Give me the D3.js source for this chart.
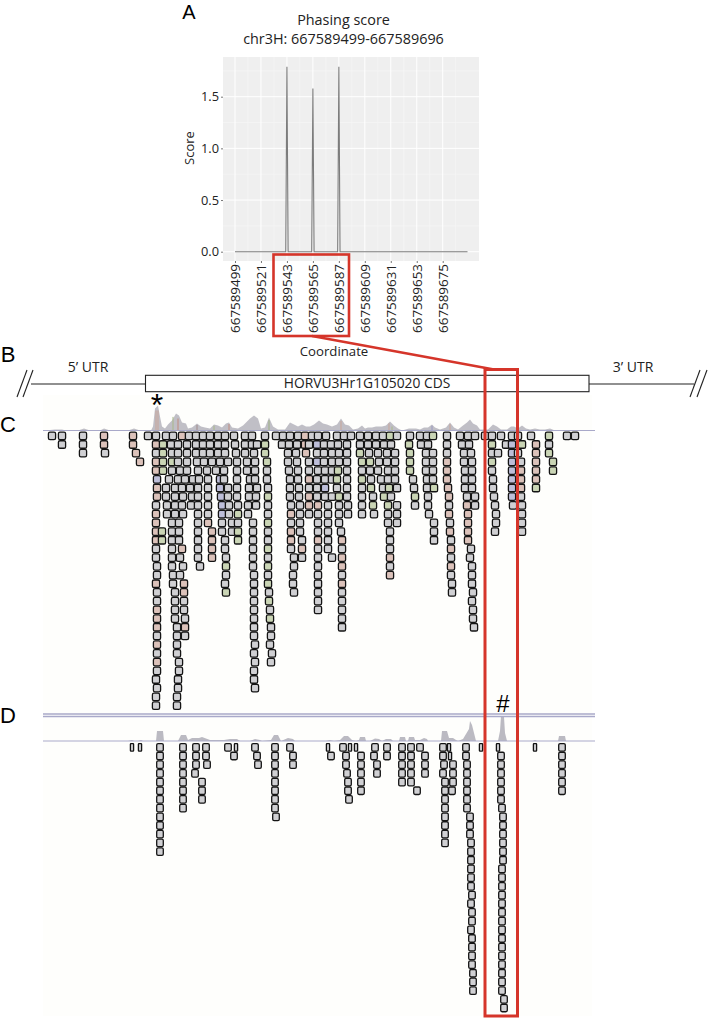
<!DOCTYPE html>
<html><head><meta charset="utf-8">
<script src="https://cdnjs.cloudflare.com/ajax/libs/d3/7.8.5/d3.min.js"></script>
<style>html,body{margin:0;padding:0;background:#fff}svg{display:block}text{font-family:"Open Sans",sans-serif;fill:#222}</style>
</head><body><div id="c"></div>
<script>
// Panel A: phasing score
const scoreCoords=[667589499,667589542,667589543,667589544,667589564,667589565,667589566,667589586,667589587,667589588,667589696];
const scoreValues=[0,0,1.79,0,0,1.58,0,0,1.79,0,0];
const coordTicks=[667589499,667589521,667589543,667589565,667589587,667589609,667589631,667589653,667589675];
const scoreTicks=[0,0.5,1,1.5];
// Panel C: reads, one list of start positions per pileup row
const cReads=[
[52,62,83,104,133,148,156,166,173,182,189,196,203,210,218,225,234,245,252,265,276,283,290,298,305,312,318,326,337,344,351,360,368,376,383,390,397,410,420,427,433,447,460,468,475,485,492,501,512,518,531,549,567,575],
[62,83,104,133,156,163,171,178,187,196,203,210,218,225,235,245,252,257,265,282,289,297,305,309,317,324,331,338,347,360,368,376,384,391,409,421,428,447,462,469,492,506,512,522,536,549],
[83,105,136,156,163,172,178,187,196,203,210,218,225,236,245,254,265,288,296,306,317,324,332,339,347,360,369,378,387,395,410,426,433,447,464,471,492,498,512,518,536,549],
[140,156,163,172,178,187,197,204,212,220,228,237,247,255,267,288,297,309,317,324,332,339,347,362,370,379,387,395,410,426,433,447,464,472,492,512,521,536,553],
[156,163,172,180,187,198,207,216,224,237,247,255,267,289,298,309,318,325,332,338,347,362,370,378,388,395,410,426,433,447,465,472,492,512,521,536,553],
[157,169,178,185,193,199,208,220,224,237,250,255,267,290,298,309,317,325,332,337,347,362,371,381,388,395,413,427,433,447,465,472,493,512,521,536],
[157,166,175,182,190,198,208,220,228,237,249,257,268,290,299,309,317,325,337,347,362,371,383,389,397,414,427,434,448,465,472,493,512,521,536],
[157,166,175,183,192,198,208,221,228,237,249,256,268,290,299,309,317,325,332,339,347,362,373,384,391,415,428,449,467,475,494,512,521],
[156,167,175,182,191,198,208,222,229,238,248,256,268,291,300,309,318,328,339,348,362,373,388,397,415,428,449,467,475,495,513,522],
[156,167,175,183,198,208,222,229,238,248,268,291,300,309,318,328,339,348,362,374,388,397,429,449,468,496,522],
[156,172,179,198,208,222,232,238,253,268,291,300,318,328,339,388,397,434,450,468,496,522],
[156,162,172,179,198,212,222,232,238,253,268,291,300,318,328,341,390,434,450,468,495,522],
[156,162,172,179,198,212,225,238,253,268,291,302,318,328,342,390,434,451,468],
[156,172,182,198,212,225,253,268,291,302,318,328,342,390,451,471],
[156,172,180,198,212,226,253,268,294,302,318,332,342,390,451,470],
[157,172,183,200,226,253,268,294,318,342,390,451,472],
[157,173,180,226,254,268,293,318,342,390,451,472],
[156,173,184,225,254,268,293,318,342,452,472],
[157,175,184,226,254,269,294,318,342,452,473],
[157,175,184,254,269,318,342,472],
[157,175,184,254,270,318,342,473],
[157,175,185,254,270,342,473],
[157,177,185,254,271,342,474],
[157,177,185,254,271],
[157,177,255,270],
[157,177,254,272],
[157,179,255,271],
[157,179,254],
[156,178,254],
[157,178,255],
[156,177],
[156,177]];
// reads showing mismatches: [row, position]
const cPink=[[0,133],[1,133],[2,136],[3,140],[0,104],[1,104],[0,182],[0,305],[1,305],[2,306],[1,156],[3,156],[4,156],[6,156],[7,156],[9,156],[10,156],[11,156],[12,156],[17,156],[20,157],[21,157],[22,157],[24,157],[26,157],[13,182],[17,184],[18,184],[22,185],[11,212],[12,212],[13,212],[14,212],[10,208],[11,291],[12,291],[9,291],[11,302],[13,302],[15,302],[8,318],[12,318],[10,342],[12,342],[14,342],[15,342],[17,342],[5,309],[7,309],[8,309],[5,536],[4,536],[3,536],[1,536],[2,536],[8,467],[9,468],[10,468],[11,468],[12,468],[6,448],[7,449],[9,449],[11,450],[13,451],[15,451],[5,447],[4,447],[3,447],[11,388],[14,390],[16,390],[4,521],[5,521],[6,521]];
const cGreen=[[1,163],[2,163],[3,163],[4,163],[11,162],[12,162],[3,172],[9,238],[11,238],[12,238],[1,265],[2,265],[3,267],[7,268],[10,268],[13,268],[15,268],[17,269],[19,270],[21,271],[15,226],[18,226],[4,337],[5,337],[7,339],[2,360],[3,362],[5,362],[3,370],[6,371],[8,373],[1,409],[2,410],[3,410],[4,410],[7,415],[0,433],[6,434],[0,390],[1,492],[3,492],[1,522],[4,521],[3,553],[4,553],[7,384],[8,388],[6,389],[14,390],[3,536],[6,536],[0,549],[2,549]];
const cBlue=[[4,156],[5,157],[4,163],[6,220],[7,221],[8,222],[9,222],[5,220],[1,512],[2,512],[3,512],[4,512],[5,512],[6,512],[7,512],[1,317],[3,317],[6,325],[0,305]];
// Panel D: reads
const dReads=[
[160,183,196,206,228,255,275,290,343,375,387,402,411,420,443,466,562],
[160,183,196,206,234,257,275,293,331,346,361,374,387,402,411,425,443,466,501,562],
[160,183,196,207,258,275,293,346,361,377,402,411,425,444,453,467,501,562],
[160,183,195,275,347,361,377,402,411,425,443,453,467,501,562],
[160,183,202,275,348,361,402,411,445,453,467,501,562],
[160,183,202,275,348,361,417,445,452,467,501,562],
[160,183,202,275,349,445,467,501],
[160,183,275,445,467,502],
[160,276,445,470,503],
[160,445,470,503],
[160,445,470,503],
[160,445,471,503],
[160,471,503],
[471,503],[471,502],[471,502],[471,502],[472,502],[471,502],[472,502],[472,502],[471,502],[472,502],[472,502],[472,502],[472,502],[473,502],[473,502],[473,502],[504],[504]];
const dNarrowReads=[[132,140,236,328,350,356,449,481,498,535],[450]];
// Coverage tracks: [position, depth]
const cCoverage=[[45,0],[55,1],[62,1],[66,0],[78,0],[84,2],[90,0],[100,0],[104,2],[110,0],[128,0],[134,2],[140,0],[151,0],[153,4],[155,22],[158,25],[160,14],[162,4],[165,2],[168,6],[172,10],[176,17],[179,15],[182,8],[186,7],[188,2],[192,3],[197,7],[201,4],[205,3],[210,2],[214,6],[218,5],[222,3],[226,7],[229,8],[232,3],[238,2],[243,5],[250,12],[254,15],[258,12],[261,2],[265,3],[269,13],[273,4],[278,1],[285,1],[290,8],[294,6],[298,4],[302,6],[306,4],[310,4],[314,6],[319,10],[323,7],[327,6],[332,4],[337,6],[341,12],[345,6],[349,5],[353,1],[358,2],[362,5],[365,2],[368,3],[372,3],[376,4],[382,4],[386,5],[390,9],[394,5],[398,2],[402,0],[409,2],[416,2],[420,1],[424,3],[428,3],[432,6],[435,3],[440,1],[446,3],[450,8],[454,3],[458,1],[463,5],[467,8],[470,11],[473,7],[477,5],[480,1],[488,1],[493,6],[497,4],[501,1],[507,1],[511,4],[514,4],[518,2],[522,5],[526,2],[530,1],[535,2],[540,1],[545,1],[550,2],[555,0],[592,0]];
const dCoverage=[[128,0],[132,1],[134,0],[138,0],[141,1],[143,0],[156,0],[157,10],[163,10],[164,0],[178,0],[181,6],[186,6],[188,1],[192,3],[199,3],[202,4],[210,1],[224,1],[230,2],[237,2],[240,0],[250,0],[255,2],[260,1],[262,0],[271,1],[274,6],[278,6],[281,0],[288,3],[293,2],[295,0],[326,0],[330,1],[334,0],[340,1],[344,5],[348,5],[352,1],[356,0],[359,1],[360,4],[365,4],[366,0],[370,0],[375,2.5],[379,2],[382,0],[386,2],[391,2],[393,0],[399,0],[400,4],[405,4],[406,0],[408,0],[409,4],[414,4],[415,1],[420,1],[424,3],[427,2],[428,0],[441,0],[442,10],[447,10],[449,3],[453,3],[456,1],[458,0],[463,2],[466,7],[469,12],[470,20],[472,16],[474,8],[476,0],[498,0],[500,10],[501,25],[504,24],[505,8],[507,0],[533,0],[535,1],[537,0],[558,0],[559,5],[565,5],[566,0]];
const cCoverageMarks=[[156,"#c9a598"],[158,"#c9a598"],[178,"#c08a7c"],[173,"#a8b888"],[197,"#a08a8a"],[214,"#a8b888"],[229,"#c08a7c"],[269,"#9cb080"],[341,"#c9a598"],[389,"#c9a598"],[392,"#a8b888"],[432,"#9a9ac0"],[450,"#c9a598"]];

const width=708,height=1018;
const svg=d3.select("#c").append("svg").attr("width",width).attr("height",height);
const RED="#d5352a";

// ---------- track backgrounds ----------
const xRead=d3.scaleLinear().domain([0,width]).range([0,width]);
const gTrack=svg.append("g");
gTrack.append("rect").attr("x",43).attr("y",395).attr("width",549).attr("height",621).attr("fill","#fefefc");

const readH=7.5;
const yC=d3.scaleLinear().domain([0,31]).range([435.8,705.6]);
const yD=d3.scaleLinear().domain([0,30]).range([747.3,1008]);

function tintOf(list,r,x){return list.some(d=>d[0]===r&&Math.abs(d[1]-x)<=1);}
const fillScale=d3.scaleOrdinal().domain(["none","pink","green","blue"]).range(["#d0d0d3","#dcc2ba","#cad5b5","#bdbed9"]);
function kindOf(r,x){
  if(tintOf(cPink,r,x))return "pink";
  if(tintOf(cGreen,r,x))return "green";
  if(tintOf(cBlue,r,x))return "blue";
  return "none";
}
function drawReads(list,y,kind,w,rx){
  const data=list.flatMap((xs,r)=>xs.map(x=>({x,r})));
  gReads.selectAll(null).data(data).enter().append("rect")
    .attr("x",d=>xRead(d.x)-w/2).attr("y",d=>y(d.r)-readH/2)
    .attr("width",w).attr("height",readH).attr("rx",rx)
    .attr("fill",d=>fillScale(kind(d)))
    .attr("stroke","#141414").attr("stroke-width",1.3);
}
const gCov=svg.append("g");
const gReads=svg.append("g").style("filter","blur(0.25px)");
drawReads(cReads,yC,d=>kindOf(d.r,d.x),7.2,1.6);
drawReads(dReads,yD,()=>"none",6.6,1.4);
drawReads(dNarrowReads,yD,()=>"none",3.2,0.6);

// coverage
const cBase=430.5,dBase=741;
const yCovC=d3.scaleLinear().domain([0,25]).range([cBase,cBase-25]);
const yCovD=d3.scaleLinear().domain([0,25]).range([dBase,dBase-25]);
const area=(y,base)=>d3.area().x(d=>xRead(d[0])).y0(base).y1(d=>y(d[1]));
gCov.append("path").attr("d",area(yCovC,cBase)(cCoverage)).attr("fill","#c0bfc6");
gCov.append("path").attr("d",area(yCovD,dBase)(dCoverage)).attr("fill","#bbbac2");
const covAt=x=>{const i=d3.bisector(d=>d[0]).left(cCoverage,x);return cCoverage[Math.min(i,cCoverage.length-1)][1];};
gCov.selectAll(null).data(cCoverageMarks).enter().append("line")
  .attr("x1",d=>xRead(d[0])).attr("x2",d=>xRead(d[0])).attr("y1",cBase).attr("y2",d=>yCovC(covAt(d[0])*0.8))
  .attr("stroke",d=>d[1]).attr("stroke-width",1);
// track separators
[[cBase,1.2],[714,1.6],[716.5,1.6],[dBase,1.2]].forEach(([y,sw])=>{
  gCov.append("line").attr("x1",43).attr("x2",595).attr("y1",y).attr("y2",y).attr("stroke","#a9a9c9").attr("stroke-width",sw);
});

// ---------- Panel A ----------
const xA=d3.scaleLinear().domain([667589499,667589696]).range([235,467.5]);
const yA=d3.scaleLinear().domain([0,1.5]).range([251.7,96.7]);
const pA={l:223,r:479,t:57,b:261};
const gA=svg.append("g");
gA.append("rect").attr("x",pA.l).attr("y",pA.t).attr("width",pA.r-pA.l).attr("height",pA.b-pA.t).attr("fill","#efefef");
const minorY=[0.25,0.75,1.25,1.75];
gA.selectAll(null).data(minorY).enter().append("line").attr("x1",pA.l).attr("x2",pA.r)
  .attr("y1",d=>yA(d)).attr("y2",d=>yA(d)).attr("stroke","#f6f6f6").attr("stroke-width",.7);
const minorX=coordTicks.map(d=>d+11);
gA.selectAll(null).data(minorX).enter().append("line").attr("y1",pA.t).attr("y2",pA.b)
  .attr("x1",d=>xA(d)).attr("x2",d=>xA(d)).attr("stroke","#f6f6f6").attr("stroke-width",.7);
gA.selectAll(null).data(scoreTicks).enter().append("line").attr("x1",pA.l).attr("x2",pA.r)
  .attr("y1",d=>yA(d)).attr("y2",d=>yA(d)).attr("stroke","#fff").attr("stroke-width",1);
gA.selectAll(null).data(coordTicks).enter().append("line").attr("y1",pA.t).attr("y2",pA.b)
  .attr("x1",d=>xA(d)).attr("x2",d=>xA(d)).attr("stroke","#fff").attr("stroke-width",1);
gA.append("path").attr("fill","none").attr("stroke","#7c7c7c").attr("stroke-width",1.1)
  .attr("d",d3.line().x((d,i)=>xA(scoreCoords[i])).y(d=>yA(d))(scoreValues));

const axL=gA.append("g").attr("transform",`translate(${pA.l},0)`)
  .call(d3.axisLeft(yA).tickValues(scoreTicks).tickFormat(d3.format(".1f")).tickSize(2).tickPadding(2));
axL.select(".domain").remove();
axL.selectAll("line").attr("stroke","#777");
axL.selectAll("text").style("font-size","12.8px").attr("fill","#222");
const axB=gA.append("g").attr("transform",`translate(0,${pA.b})`)
  .call(d3.axisBottom(xA).tickValues(coordTicks).tickFormat(d3.format("d")).tickSize(2));
axB.select(".domain").remove();
axB.selectAll("line").attr("stroke","#777");
axB.selectAll("text").style("font-size","13.4px").attr("fill","#222")
  .attr("transform","rotate(-90)").attr("text-anchor","end").attr("x",-3).attr("y",0).attr("dy","0.36em");

function label(t,x,y,size,opts={}){
  const e=svg.append("text").attr("x",x).attr("y",y).attr("text-anchor",opts.anchor||"middle").style("font-size",size+"px").text(t);
  if(opts.font)e.style("font-family",opts.font);
  if(opts.rot)e.attr("transform",`rotate(${opts.rot} ${x} ${y})`);
  if(opts.fill)e.style("fill",opts.fill);
  return e;
}
label("Phasing score",343.5,25,14.4);
label("chr3H: 667589499-667589696",343.5,44,14.4);
label("Score",194,148,13,{rot:-90});
label("Coordinate",334,356,13.2);
const HV='"Liberation Sans",sans-serif';
label("A",189,19,20,{font:HV,fill:"#000"});
label("B",8,362,22,{font:HV,fill:"#000"});
label("C",8,432,22,{font:HV,fill:"#000"});
label("D",8,723,22,{font:HV,fill:"#000"});

// ---------- Panel B gene model ----------
const gB=svg.append("g");
gB.append("line").attr("x1",31).attr("x2",146).attr("y1",384).attr("y2",384).attr("stroke","#222").attr("stroke-width",1.1);
gB.append("line").attr("x1",589).attr("x2",694).attr("y1",384).attr("y2",384).attr("stroke","#222").attr("stroke-width",1.1);
gB.append("rect").attr("x",145.5).attr("y",375.3).attr("width",443.5).attr("height",16.4).attr("fill","#fff").attr("stroke","#222").attr("stroke-width",1.1);
[[17,397,27,370],[23,397,33,370],[690,397,700,370],[697,397,707,370]].forEach(d=>{
  gB.append("line").attr("x1",d[0]).attr("y1",d[1]).attr("x2",d[2]).attr("y2",d[3]).attr("stroke","#222").attr("stroke-width",1.1);
});
label("5’ UTR",88,372,14);
label("3’ UTR",633,372,14);
label("HORVU3Hr1G105020 CDS",367,388,13.8);

// marks
label("*",157,416,32,{font:HV,fill:"#000"});
label("#",503,712,24,{font:HV,fill:"#000"});

// ---------- Red highlight ----------
const gR=svg.append("g").attr("fill","none").attr("stroke",RED).attr("stroke-width",3);
gR.append("rect").attr("x",273.5).attr("y",254.5).attr("width",75.5).attr("height",81.5).attr("stroke-width",2.6);
gR.append("line").attr("x1",312).attr("y1",336).attr("x2",494).attr("y2",369.5).attr("stroke-width",2.4);
gR.append("rect").attr("x",485).attr("y",369.5).attr("width",32.5).attr("height",646.5);
</script></body></html>
